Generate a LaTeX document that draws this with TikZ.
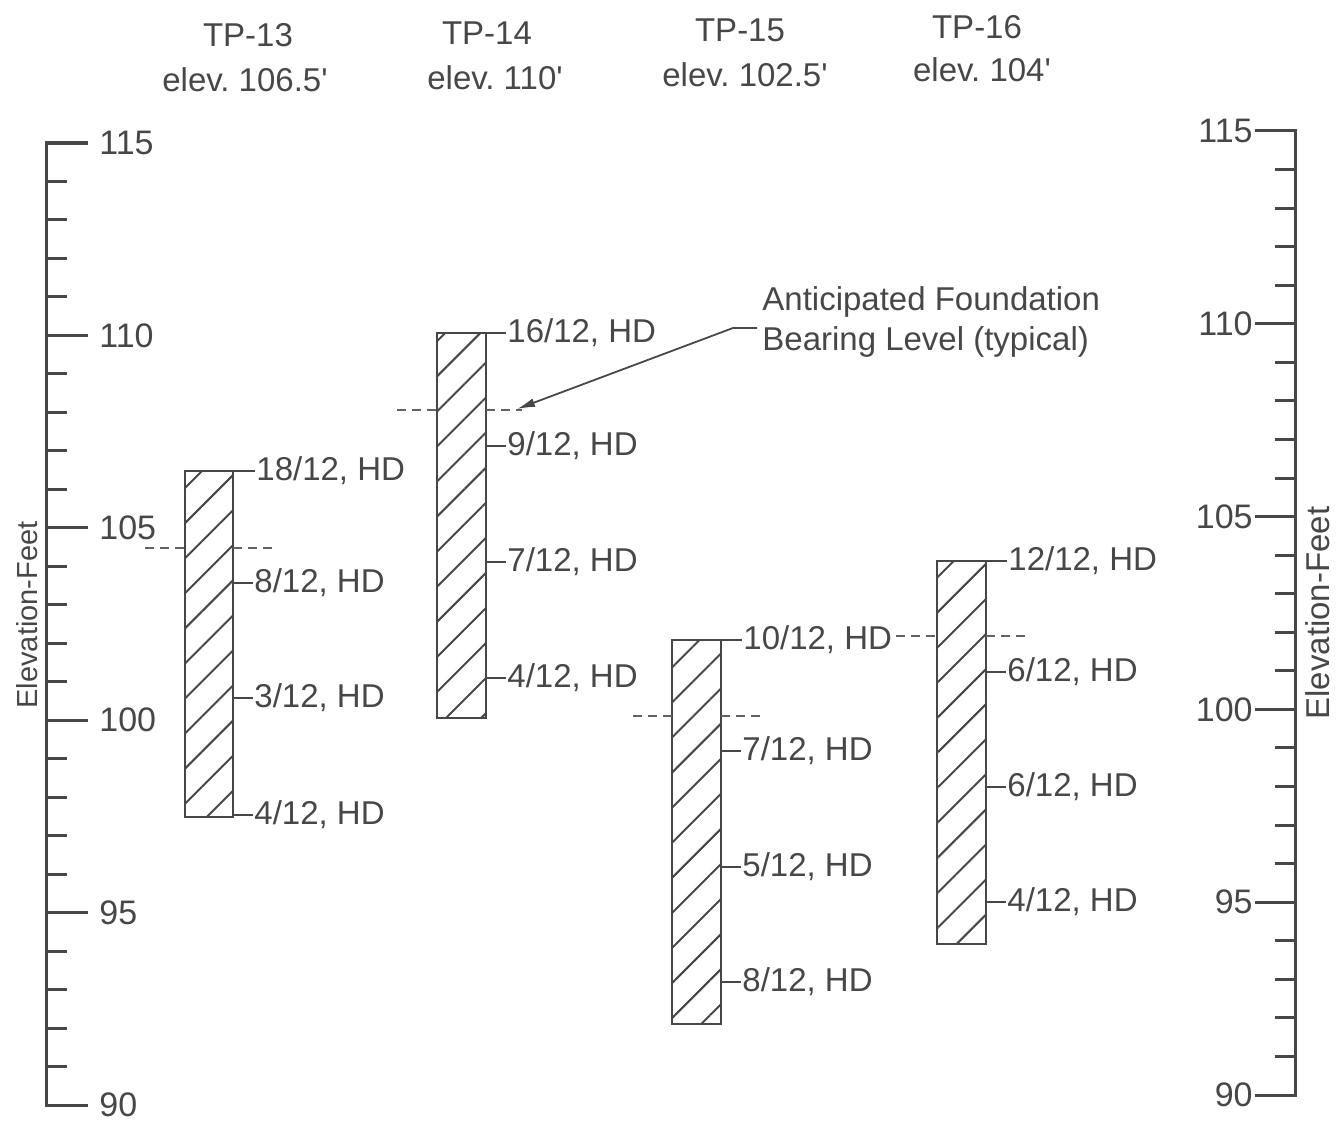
\documentclass[tikz,border=0pt]{standalone}
\usepackage{fontspec}
\setmainfont{Liberation Sans}
\usetikzlibrary{patterns.meta,arrows.meta}
\definecolor{ink}{HTML}{474747}
\frenchspacing
\begin{document}
\begin{tikzpicture}[x=0.5pt,y=-0.5pt,
  ax/.style={draw=ink, line width=1.5pt},
  tk/.style={draw=ink, line width=1.2pt},
  bore/.style={draw=ink, line width=1.3pt, inner sep=0pt, outer sep=0pt,
     pattern={Lines[angle=45,distance=12.4pt,line width=1pt]}, pattern color=ink},
  lab/.style={anchor=west, inner sep=0.5pt, text=ink, font=\fontsize{16.5}{19}\selectfont},
  hd/.style={inner sep=0pt, text=ink, font=\fontsize{16.5}{19}\selectfont},
  num/.style={inner sep=0pt, text=ink, font=\fontsize{17}{19}\selectfont},
  yl/.style={inner sep=0pt, text=ink, rotate=90},
  cut/.style={draw=ink!85, line width=0.8pt, dash pattern=on 4.5pt off 3pt},
  lead/.style={draw=ink, line width=0.9pt},
]
\useasboundingbox (0,0) rectangle (1338,1129);

% ---------- left axis ----------
\draw[ax] (88,143) -- (46,143) -- (46,1105) -- (88,1105);
\foreach \e in {91,...,114}{
  \pgfmathsetmacro{\yy}{143+(115-\e)*38.48}
  \pgfmathtruncatemacro{\m}{mod(\e,5)}
  \ifnum\m=0 \draw[ax] (46,\yy) -- (88,\yy); \else \draw[ax] (46,\yy) -- (67,\yy); \fi
}
\foreach \e/\nm in {115/a,110/b,105/c,100/d,95/e,90/f}{
  \pgfmathsetmacro{\yy}{143+(115-\e)*38.48}
  \node[num,anchor=west] (ln\nm) at (99,\yy) {\e};
}
\node[yl, font=\fontsize{14.5}{17}\selectfont] (ylabL) at (27,615) {Elevation-Feet};

% ---------- right axis ----------
\draw[ax] (1255,131) -- (1295,131) -- (1295,1095) -- (1255,1095);
\foreach \e in {91,...,114}{
  \pgfmathsetmacro{\yy}{131+(115-\e)*38.56}
  \pgfmathtruncatemacro{\m}{mod(\e,5)}
  \ifnum\m=0 \draw[ax] (1255,\yy) -- (1295,\yy); \else \draw[ax] (1275,\yy) -- (1295,\yy); \fi
}
\foreach \e/\nm in {115/a,110/b,105/c,100/d,95/e,90/f}{
  \pgfmathsetmacro{\yy}{131+(115-\e)*38.56}
  \node[num,anchor=east] (rn\nm) at (1253,\yy) {\e};
}
\node[yl, font=\fontsize{16.5}{19}\selectfont] (ylabR) at (1318,613) {Elevation-Feet};

% ---------- headers ----------
\node[hd] (h13a) at (248,35) {TP-13};
\node[hd] (h13b) at (245,80) {elev. 106.5\textquotesingle};
\node[hd] (h14a) at (487,33) {TP-14};
\node[hd] (h14b) at (495,78) {elev. 110\textquotesingle};
\node[hd] (h15a) at (740,30) {TP-15};
\node[hd] (h15b) at (745,75) {elev. 102.5\textquotesingle};
\node[hd] (h16a) at (977,27) {TP-16};
\node[hd] (h16b) at (982,70) {elev. 104\textquotesingle};

% ---------- borings ----------
\node[bore, minimum width=24pt, minimum height=173pt] (b13) at (209,644) {};
\node[bore, minimum width=24.5pt, minimum height=192.5pt] (b14) at (461.5,525.5) {};
\node[bore, minimum width=24.5pt, minimum height=192pt] (b15) at (696.5,832) {};
\node[bore, minimum width=24.5pt, minimum height=191.5pt] (b16) at (961.5,752.5) {};

% ---------- labels TP-13 ----------
\node[lab] (l13a) at (255,471) {18/12, HD};
\node[lab] (l13b) at (253,583) {8/12, HD};
\node[lab] (l13c) at (253,698) {3/12, HD};
\node[lab] (l13d) at (253,815) {4/12, HD};
\draw[tk] (b13.north east) -- (l13a.west);
\foreach \n in {l13b,l13c,l13d}{ \draw[tk] (b13.east |- \n.west) -- (\n.west); }

% ---------- labels TP-14 ----------
\node[lab] (l14a) at (506,333) {16/12, HD};
\node[lab] (l14b) at (506,446) {9/12, HD};
\node[lab] (l14c) at (506,562) {7/12, HD};
\node[lab] (l14d) at (506,678) {4/12, HD};
\draw[tk] (b14.north east) -- (l14a.west);
\foreach \n in {l14b,l14c,l14d}{ \draw[tk] (b14.east |- \n.west) -- (\n.west); }

% ---------- labels TP-15 ----------
\node[lab] (l15a) at (742,640) {10/12, HD};
\node[lab] (l15b) at (741,751) {7/12, HD};
\node[lab] (l15c) at (741,867) {5/12, HD};
\node[lab] (l15d) at (741,982) {8/12, HD};
\draw[tk] (b15.north east) -- (l15a.west);
\foreach \n in {l15b,l15c,l15d}{ \draw[tk] (b15.east |- \n.west) -- (\n.west); }

% ---------- labels TP-16 ----------
\node[lab] (l16a) at (1007,561) {12/12, HD};
\node[lab] (l16b) at (1006,672) {6/12, HD};
\node[lab] (l16c) at (1006,787) {6/12, HD};
\node[lab] (l16d) at (1006,902) {4/12, HD};
\draw[tk] (b16.north east) -- (l16a.west);
\foreach \n in {l16b,l16c,l16d}{ \draw[tk] (b16.east |- \n.west) -- (\n.west); }

% ---------- bearing levels (dashed) ----------
\coordinate (d13l) at (145,548); \coordinate (d13r) at (272,548);
\coordinate (d14l) at (397,410); \coordinate (d14r) at (522,410);
\coordinate (d15l) at (633,716); \coordinate (d15r) at (762,716);
\coordinate (d16l) at (896,636); \coordinate (d16r) at (1025,636);
\draw[cut] (d13l) -- (d13l -| b13.west);  \draw[cut] (d13r -| b13.east) -- (d13r);
\draw[cut] (d14l) -- (d14l -| b14.west);  \draw[cut] (d14r -| b14.east) -- (d14r);
\draw[cut] (d15l) -- (d15l -| b15.west);  \draw[cut] (d15r -| b15.east) -- (d15r);
\draw[cut] (d16l) -- (d16l -| b16.west);  \draw[cut] (d16r -| b16.east) -- (d16r);

% ---------- annotation ----------
\node[lab, align=left, font=\fontsize{16.5}{20}\selectfont] (ann) at (761,322)
  {Anticipated Foundation\\Bearing Level (typical)};
\coordinate (lead0) at (757,328);
\coordinate (bend) at (733,328);
\coordinate (tip) at (517,409);
\draw[lead, -{Latex[length=9pt,width=4.5pt]}] (lead0) -- (bend) -- (tip);
\end{tikzpicture}
\end{document}
